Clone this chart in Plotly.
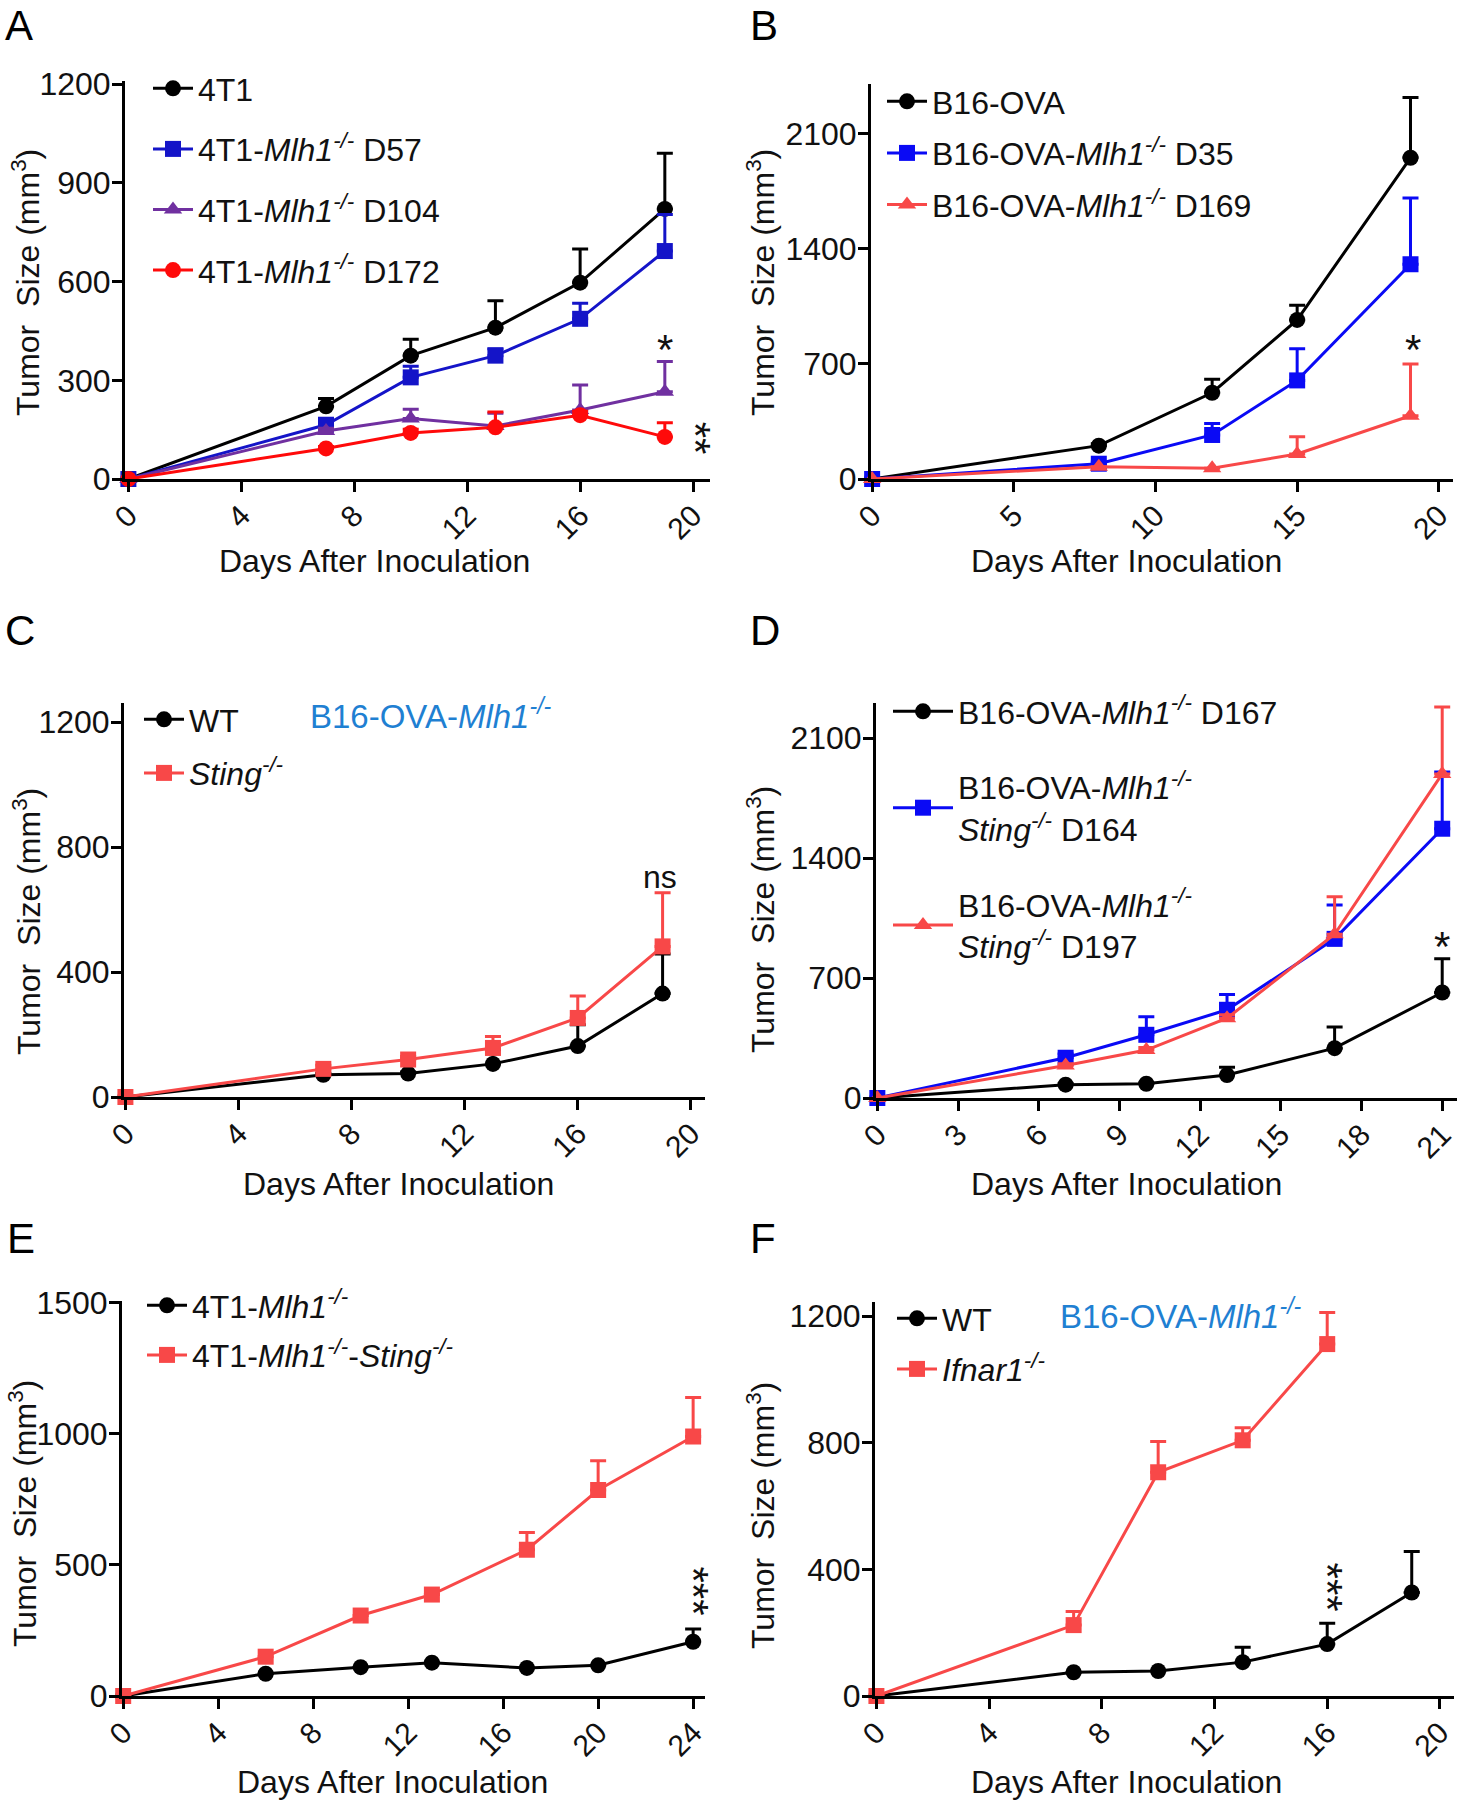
import plotly.graph_objects as go

# ---------------- data ----------------
# Panel A
days_a = [0, 7, 10, 13, 16, 19]
a_4t1 = [0, 221, 375, 460, 597, 821]
a_4t1_err = [0, 24, 50, 82, 102, 169]
a_d57 = [0, 165, 309, 375, 487, 693]
a_d57_err = [0, 10, 34, 21, 47, 111]
a_d104 = [0, 146, 184, 161, 210, 265]
a_d104_err = [0, 8, 28, 39, 76, 92]
a_d172 = [0, 93, 140, 157, 194, 128]
a_d172_err = [0, 6, 11, 47, 12, 43]

# Panel B
days_b = [0, 8, 12, 15, 19]
b_ova = [0, 203, 525, 968, 1955]
b_ova_err = [0, 12, 82, 89, 367]
b_d35 = [0, 93, 268, 600, 1307]
b_d35_err = [0, 10, 70, 193, 403]
b_d169 = [0, 75, 65, 152, 385]
b_d169_err = [0, 0, 0, 105, 315]

# Panel C
days_c = [0, 7, 10, 13, 16, 19]
c_wt = [0, 71, 75, 106, 163, 331]
c_wt_err = [0, 5, 5, 45, 68, 127]
c_sting = [0, 90, 120, 157, 253, 482]
c_sting_err = [0, 12, 10, 37, 70, 172]

# Panel D
days_d = [0, 7, 10, 13, 17, 21]
d_167 = [0, 78, 83, 134, 291, 616]
d_167_err = [0, 5, 5, 45, 123, 197]
d_164 = [0, 235, 369, 515, 929, 1572]
d_164_err = [0, 22, 106, 89, 197, 331]
d_197 = [0, 190, 280, 466, 956, 1892]
d_197_err = [0, 10, 15, 20, 219, 391]

# Panel E
days_e = [0, 6, 10, 13, 17, 20, 24]
e_mlh1 = [0, 85, 110, 127, 107, 117, 207]
e_mlh1_err = [0, 0, 0, 0, 0, 0, 49]
e_sting = [0, 150, 307, 387, 558, 786, 990]
e_sting_err = [0, 0, 0, 0, 66, 112, 149]

# Panel F
days_f = [0, 7, 10, 13, 16, 19]
f_wt = [0, 75, 79, 107, 164, 327]
f_wt_err = [0, 0, 0, 47, 66, 130]
days_f_ifnar = [0, 7, 10, 13, 16]
f_ifnar = [0, 224, 707, 808, 1112]
f_ifnar_err = [0, 43, 97, 40, 100]

# tick labels
xticks_a = [0, 4, 8, 12, 16, 20]
yticks_a = [0, 300, 600, 900, 1200]
xticks_b = [0, 5, 10, 15, 20]
yticks_b = [0, 700, 1400, 2100]
xticks_c = [0, 4, 8, 12, 16, 20]
yticks_c = [0, 400, 800, 1200]
xticks_d = [0, 3, 6, 9, 12, 15, 18, 21]
yticks_d = [0, 700, 1400, 2100]
xticks_e = [0, 4, 8, 12, 16, 20, 24]
yticks_e = [0, 500, 1000, 1500]
xticks_f = [0, 4, 8, 12, 16, 20]
yticks_f = [0, 400, 800, 1200]

# ---------------- styling ----------------
W, H = 1458, 1800
FONT = "Liberation Sans, Arial, sans-serif"
BLACK = "#000000"
BLUE_A = "#1414C8"
BLUE = "#0A0AF5"
PURPLE = "#7030A0"
RED_A = "#FF0A0A"
RED = "#F84848"
ANNOT_BLUE = "#1F80D2"
TXT = "#111111"

MLH = "<i>Mlh1</i><sup><i>-/-</i></sup>"
STING = "<i>Sting</i><sup><i>-/-</i></sup>"

fig = go.Figure()

def px_x(p):
    return p / W

def px_y(p):
    return 1 - p / H

# panel geometry in pixels
panels = {
    "": dict(x=(125, 710), y=(81, 479), xr=[-0.12, 20.6], yr=[0, 1210], xt=xticks_a, yt=yticks_a),
    "2": dict(x=(871, 1453), y=(84, 479), xr=[-0.04, 20.5], yr=[0, 2404], xt=xticks_b, yt=yticks_b),
    "3": dict(x=(124, 705), y=(703, 1097), xr=[-0.05, 20.5], yr=[0, 1261], xt=xticks_c, yt=yticks_c),
    "4": dict(x=(876, 1457), y=(703, 1098), xr=[-0.05, 21.55], yr=[0, 2306], xt=xticks_d, yt=yticks_d),
    "5": dict(x=(122, 705), y=(1301, 1696), xr=[-0.05, 24.5], yr=[0, 1507], xt=xticks_e, yt=yticks_e),
    "6": dict(x=(875, 1454), y=(1302, 1696), xr=[-0.05, 20.5], yr=[0, 1245], xt=xticks_f, yt=yticks_f),
}

layout_axes = {}
for k, p in panels.items():
    common = dict(showline=True, linewidth=3, linecolor=BLACK, ticks="outside",
                  ticklen=10, tickwidth=3, tickcolor=BLACK, showgrid=False,
                  zeroline=False, automargin=False, fixedrange=True,
                  ticklabeloverflow="allow")
    layout_axes["xaxis" + k] = dict(common, domain=[px_x(p["x"][0]), px_x(p["x"][1])],
                                    range=p["xr"], tickmode="array", tickvals=p["xt"],
                                    tickangle=-45, anchor="y" + k, ticklabelstandoff=-6,
                                    tickfont=dict(family=FONT, size=30, color=TXT))
    layout_axes["yaxis" + k] = dict(common, domain=[px_y(p["y"][1]), px_y(p["y"][0])],
                                    range=p["yr"], tickmode="array", tickvals=p["yt"],
                                    anchor="x" + k, ticklabelstandoff=-5,
                                    tickfont=dict(family=FONT, size=32, color=TXT))


def add(x, y, err, name, color, symbol, axis, legend):
    fig.add_trace(go.Scatter(
        x=x, y=y, name=name, mode="lines+markers",
        line=dict(color=color, width=3),
        marker=dict(color=color, symbol=symbol, size=16),
        error_y=dict(type="data", array=err, arrayminus=[0] * len(err), symmetric=False,
                     color=color, thickness=3, width=8),
        xaxis="x" + axis, yaxis="y" + axis, legend=legend,
        legendgroup=name + axis, cliponaxis=False,
    ))


# Panel A
add(days_a, a_4t1, a_4t1_err, "4T1", BLACK, "circle", "", "legend")
add(days_a, a_d57, a_d57_err, "4T1-" + MLH + " D57", BLUE_A, "square", "", "legend")
add(days_a, a_d104, a_d104_err, "4T1-" + MLH + " D104", PURPLE, "triangle-up", "", "legend")
add(days_a, a_d172, a_d172_err, "4T1-" + MLH + " D172", RED_A, "circle", "", "legend")
# Panel B
add(days_b, b_ova, b_ova_err, "B16-OVA", BLACK, "circle", "2", "legend2")
add(days_b, b_d35, b_d35_err, "B16-OVA-" + MLH + " D35", BLUE, "square", "2", "legend2")
add(days_b, b_d169, b_d169_err, "B16-OVA-" + MLH + " D169", RED, "triangle-up", "2", "legend2")
# Panel C
add(days_c, c_wt, c_wt_err, "WT", BLACK, "circle", "3", "legend3")
add(days_c, c_sting, c_sting_err, STING, RED, "square", "3", "legend3")
# Panel D
add(days_d, d_167, d_167_err, "B16-OVA-" + MLH + " D167", BLACK, "circle", "4", "legend4")
add(days_d, d_164, d_164_err, "B16-OVA-" + MLH + "<br>" + STING + " D164", BLUE, "square", "4", "legend4")
add(days_d, d_197, d_197_err, "B16-OVA-" + MLH + "<br>" + STING + " D197", RED, "triangle-up", "4", "legend4")
# Panel E
add(days_e, e_mlh1, e_mlh1_err, "4T1-" + MLH, BLACK, "circle", "5", "legend5")
add(days_e, e_sting, e_sting_err, "4T1-" + MLH + "-" + STING, RED, "square", "5", "legend5")
# Panel F
add(days_f, f_wt, f_wt_err, "WT", BLACK, "circle", "6", "legend6")
add(days_f_ifnar, f_ifnar, f_ifnar_err, "<i>Ifnar1</i><sup><i>-/-</i></sup>", RED, "square", "6", "legend6")


def legend(xpx, ypx, gap, itemwidth=40):
    return dict(x=px_x(xpx), y=px_y(ypx), xanchor="left", yanchor="top",
                xref="paper", yref="paper",
                font=dict(family=FONT, size=32, color=TXT), bgcolor="rgba(0,0,0,0)",
                borderwidth=0, tracegroupgap=gap, itemwidth=itemwidth,
                traceorder="grouped", itemclick=False, itemdoubleclick=False)


annotations = []

def text(xpx, ypx, s, size=32, color=TXT, angle=0, yanchor="middle"):
    annotations.append(dict(x=px_x(xpx), y=px_y(ypx), xref="paper", yref="paper",
                            text=s, showarrow=False, textangle=angle,
                            font=dict(family=FONT, size=size, color=color),
                            xanchor="center", yanchor=yanchor))

# panel letters (top of text box given)
for lx, ly, letter in [(19, 0, "A"), (764, 0, "B"), (20, 605, "C"), (765, 605, "D"),
                       (21, 1213, "E"), (763, 1213, "F")]:
    text(lx, ly, letter, size=42, color=BLACK, yanchor="top")

# axis titles
XT = "Days After Inoculation"
YT = "Tumor  Size (mm<sup>3</sup>)"
for cx, cy in [(374, 561), (1126, 561), (399, 1184), (1126, 1184), (392, 1782), (1126, 1782)]:
    text(cx, cy, XT)
for cx, cy in [(26, 283), (761, 283), (27, 922), (761, 920), (23, 1514), (761, 1516)]:
    text(cx, cy, YT, angle=-90)

# cell-line labels
text(431, 714, "B16-OVA-<i>Mlh1</i><sup><i>-/-</i></sup>", size=33, color=ANNOT_BLUE)
text(1181, 1314, "B16-OVA-<i>Mlh1</i><sup><i>-/-</i></sup>", size=33, color=ANNOT_BLUE)

# significance marks (data coordinates)
def sig(ax, x, y, s, angle=0, size=42):
    annotations.append(dict(x=x, y=y, xref="x" + ax, yref="y" + ax, text=s, showarrow=False,
                            textangle=angle, font=dict(family=FONT, size=size, color=TXT),
                            xanchor="center", yanchor="middle"))

sig("", 19, 395, "*")
sig("", 20.1, 123, "**", angle=90)
sig("2", 19.1, 790, "*")
sig("3", 18.9, 703, "ns", size=32)
sig("4", 21, 885, "*")
sig("5", 24.0, 402, "***", angle=90)
sig("6", 16, 345, "***", angle=90)

fig.update_layout(
    width=W, height=H, margin=dict(l=0, r=0, t=0, b=0),
    paper_bgcolor="white", plot_bgcolor="white",
    font=dict(family=FONT, color=TXT),
    legend=legend(148, 61, 16),
    legend2=legend(882, 74, 7),
    legend3=legend(139, 692, 9),
    legend4=legend(888, 684, 31, itemwidth=60),
    legend5=legend(142, 1278, 5),
    legend6=legend(892, 1291, 6),
    annotations=annotations,
    **layout_axes,
)

fig.write_html("out.html", config={"displayModeBar": False},
               post_script="document.body.style.margin='0px';")
